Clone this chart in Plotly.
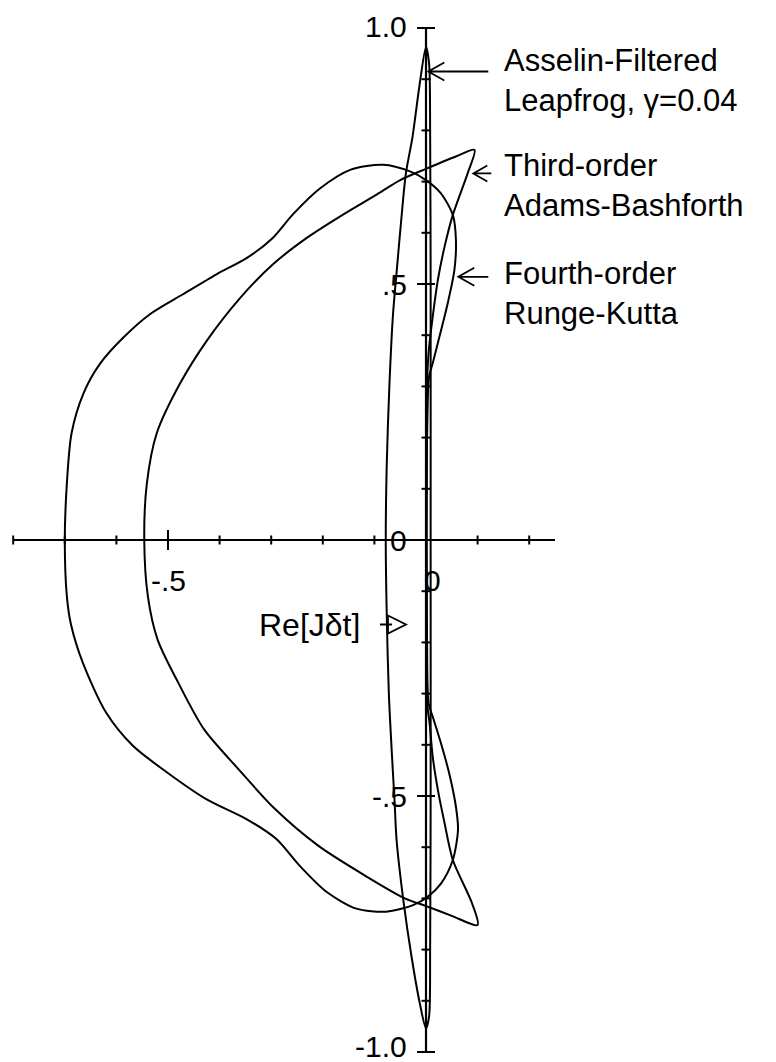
import plotly.graph_objects as go

# Fourth-order Runge-Kutta: from the origin up along the axis, round the top,
# down the left side and back up through the lower right-hand lobe
rk4_x = [0.001, 0.002, 0.006, 0.013, 0.026, 0.042, 0.055, 0.058, 0.052, 0.029, 0.0,
         -0.031, -0.083, -0.147, -0.205, -0.258, -0.297, -0.347, -0.406, -0.471,
         -0.535, -0.587, -0.632, -0.664, -0.687, -0.696, -0.700,
         -0.696, -0.688, -0.665, -0.620, -0.568, -0.503, -0.426, -0.348, -0.290,
         -0.245, -0.193, -0.135, -0.077, -0.025, 0.003, 0.029, 0.052, 0.062, 0.058,
         0.045, 0.029, 0.013, 0.005, 0.002, 0.001]
rk4_y = [0.0, 0.20, 0.319, 0.345, 0.397, 0.462, 0.527, 0.586, 0.635, 0.677, 0.703,
         0.720, 0.733, 0.723, 0.687, 0.636, 0.590, 0.551, 0.519, 0.480,
         0.441, 0.395, 0.344, 0.286, 0.208, 0.110, 0.0,
         -0.110, -0.165, -0.240, -0.337, -0.402, -0.453, -0.506, -0.545, -0.584,
         -0.636, -0.687, -0.720, -0.726, -0.713, -0.697, -0.671, -0.625, -0.566, -0.521,
         -0.456, -0.397, -0.345, -0.319, -0.20, 0.0]

# Third-order Adams-Bashforth
ab3_x = [0.001, 0.002, 0.003, 0.006, 0.013, 0.023, 0.036, 0.052, 0.081, 0.094,
         0.060, 0.0, -0.050, -0.095, -0.160, -0.231, -0.296, -0.360, -0.425, -0.477,
         -0.522, -0.541, -0.546,
         -0.539, -0.520, -0.480, -0.430, -0.364, -0.293, -0.209, -0.119, -0.041,
         0.003, 0.050, 0.100, 0.089, 0.052, 0.036, 0.023, 0.013, 0.007, 0.003,
         0.002, 0.001]
ab3_y = [0.0, 0.20, 0.332, 0.377, 0.436, 0.508, 0.573, 0.635, 0.717, 0.762,
         0.750, 0.725, 0.703, 0.675, 0.636, 0.590, 0.539, 0.473, 0.389, 0.305,
         0.208, 0.110, 0.0,
         -0.110, -0.195, -0.279, -0.370, -0.447, -0.525, -0.597, -0.655, -0.700,
         -0.716, -0.734, -0.752, -0.709, -0.625, -0.553, -0.488, -0.423, -0.358, -0.326,
         -0.20, 0.0]

# Asselin-filtered leapfrog, gamma = 0.04
lf_x = [0.0, -0.013, -0.026, -0.039, -0.048, -0.056, -0.064, -0.071, -0.076, -0.078,
        -0.076, -0.072, -0.066, -0.061, -0.057, -0.044, -0.028, -0.012, 0.0,
        0.006, 0.008, 0.009, 0.009, 0.009, 0.008, 0.006, 0.0]
lf_y = [0.963, 0.885, 0.788, 0.716, 0.625, 0.534, 0.440, 0.300, 0.150, 0.0,
        -0.150, -0.300, -0.420, -0.508, -0.586, -0.703, -0.814, -0.905, -0.954,
        -0.930, -0.800, -0.500, 0.0, 0.500, 0.800, 0.930, 0.963]

x_ticks = [-0.8, -0.7, -0.6, -0.5, -0.4, -0.3, -0.2, -0.1, 0.1, 0.2]
y_ticks = [-1.0, -0.9, -0.8, -0.7, -0.6, -0.5, -0.4, -0.3, -0.2, -0.1,
           0.1, 0.2, 0.3, 0.4, 0.5, 0.6, 0.7, 0.8, 0.9, 1.0]
x_major = [-0.5]
y_major = [-1.0, -0.5, 0.5, 1.0]
x_labels = [(-0.5, "-.5"), (0.0, "0")]
y_labels = [(1.0, "1.0"), (0.5, ".5"), (0.0, "0"), (-0.5, "-.5"), (-1.0, "-1.0")]
x_axis_end = [-0.8, 0.25]
y_axis_end = [-1.0, 1.0]

FONT = "Liberation Sans, Arial, Helvetica, sans-serif"
BLACK = "#000000"

fig = go.Figure()
for xs, ys in [(rk4_x, rk4_y), (ab3_x, ab3_y), (lf_x, lf_y)]:
    fig.add_trace(go.Scatter(x=xs, y=ys, mode="lines",
                             line=dict(color=BLACK, width=2, shape="spline", smoothing=0.8),
                             hoverinfo="skip", showlegend=False))

shapes = []
# axes
shapes.append(dict(type="line", xref="x", yref="y", x0=x_axis_end[0], x1=x_axis_end[1],
                   y0=0, y1=0, line=dict(color=BLACK, width=2.2)))
shapes.append(dict(type="line", xref="x", yref="y", x0=0, x1=0,
                   y0=y_axis_end[0], y1=y_axis_end[1], line=dict(color=BLACK, width=2.2)))
# ticks crossing the axes, lengths in pixels
for t in x_ticks:
    h = 10 if t in x_major else 4.5
    shapes.append(dict(type="line", xref="x", yref="y", x0=t, x1=t,
                       ysizemode="pixel", yanchor=0, y0=-h, y1=h,
                       line=dict(color=BLACK, width=2)))
for t in y_ticks:
    h = 9 if t in y_major else 4.5
    shapes.append(dict(type="line", xref="x", yref="y", y0=t, y1=t,
                       xsizemode="pixel", xanchor=0, x0=-h, x1=h,
                       line=dict(color=BLACK, width=2)))


def left_arrow(x, y, length, head_len, head_w):
    path = "M 0 0 L %g 0 M %g %g L 0 0 L %g %g" % (length, head_len, head_w, head_len, -head_w)
    return dict(type="path", xref="x", yref="y", xsizemode="pixel", ysizemode="pixel",
                xanchor=x, yanchor=y, path=path, line=dict(color=BLACK, width=1.8))


shapes.append(left_arrow(0.0045, 0.915, 60, 16, 9))
shapes.append(left_arrow(0.0917, 0.716, 18, 14, 8))
shapes.append(left_arrow(0.0626, 0.514, 30, 16, 9))
# open-headed arrow after Re[J dt]
shapes.append(dict(type="path", xref="x", yref="y", xsizemode="pixel", ysizemode="pixel",
                   xanchor=-0.0388, yanchor=-0.165,
                   path="M -26 0 L -14 0 M -18 9 L 0 0 L -18 -9 Z",
                   line=dict(color=BLACK, width=1.8)))

annotations = []
for v, txt in y_labels:
    shift = 6 if v == -1.0 else (2 if v == 1.0 else 0)
    annotations.append(dict(x=0, y=v, xref="x", yref="y", text=txt, showarrow=False,
                            xanchor="right", yanchor="middle", xshift=-17, yshift=shift,
                            font=dict(family=FONT, size=30, color=BLACK)))
for v, txt in x_labels:
    annotations.append(dict(x=v, y=0, xref="x", yref="y", text=txt, showarrow=False,
                            xanchor="center", yanchor="top", yshift=-22,
                            xshift=6 if v == 0 else 0,
                            font=dict(family=FONT, size=30, color=BLACK)))

curve_labels = [("Asselin-Filtered<br>Leapfrog, \u03b3=0.04", 0.8965),
                ("Third-order<br>Adams-Bashforth", 0.6924),
                ("Fourth-order<br>Runge-Kutta", 0.4824)]
for txt, yv in curve_labels:
    annotations.append(dict(x=0.147, y=yv, xref="x", yref="y", text=txt, showarrow=False,
                            xanchor="left", yanchor="middle", align="left",
                            font=dict(family=FONT, size=31, color=BLACK)))
annotations.append(dict(x=-0.124, y=-0.166, xref="x", yref="y", text="Re[J\u03b4t]",
                        showarrow=False, xanchor="right", yanchor="middle",
                        font=dict(family=FONT, size=32, color=BLACK)))

# the page adds an 8 px body margin, so the figure is 8 px smaller and the
# ranges put the origin at (418, 532) inside it
fig.update_layout(
    width=768, height=1054,
    margin=dict(l=0, r=0, t=0, b=0),
    paper_bgcolor="white", plot_bgcolor="white",
    showlegend=False,
    xaxis=dict(range=[-418 / 516, 350 / 516], visible=False, fixedrange=True),
    yaxis=dict(range=[-522 / 512, 532 / 512], visible=False, fixedrange=True),
    shapes=shapes, annotations=annotations,
)

fig.write_html("out.html")
